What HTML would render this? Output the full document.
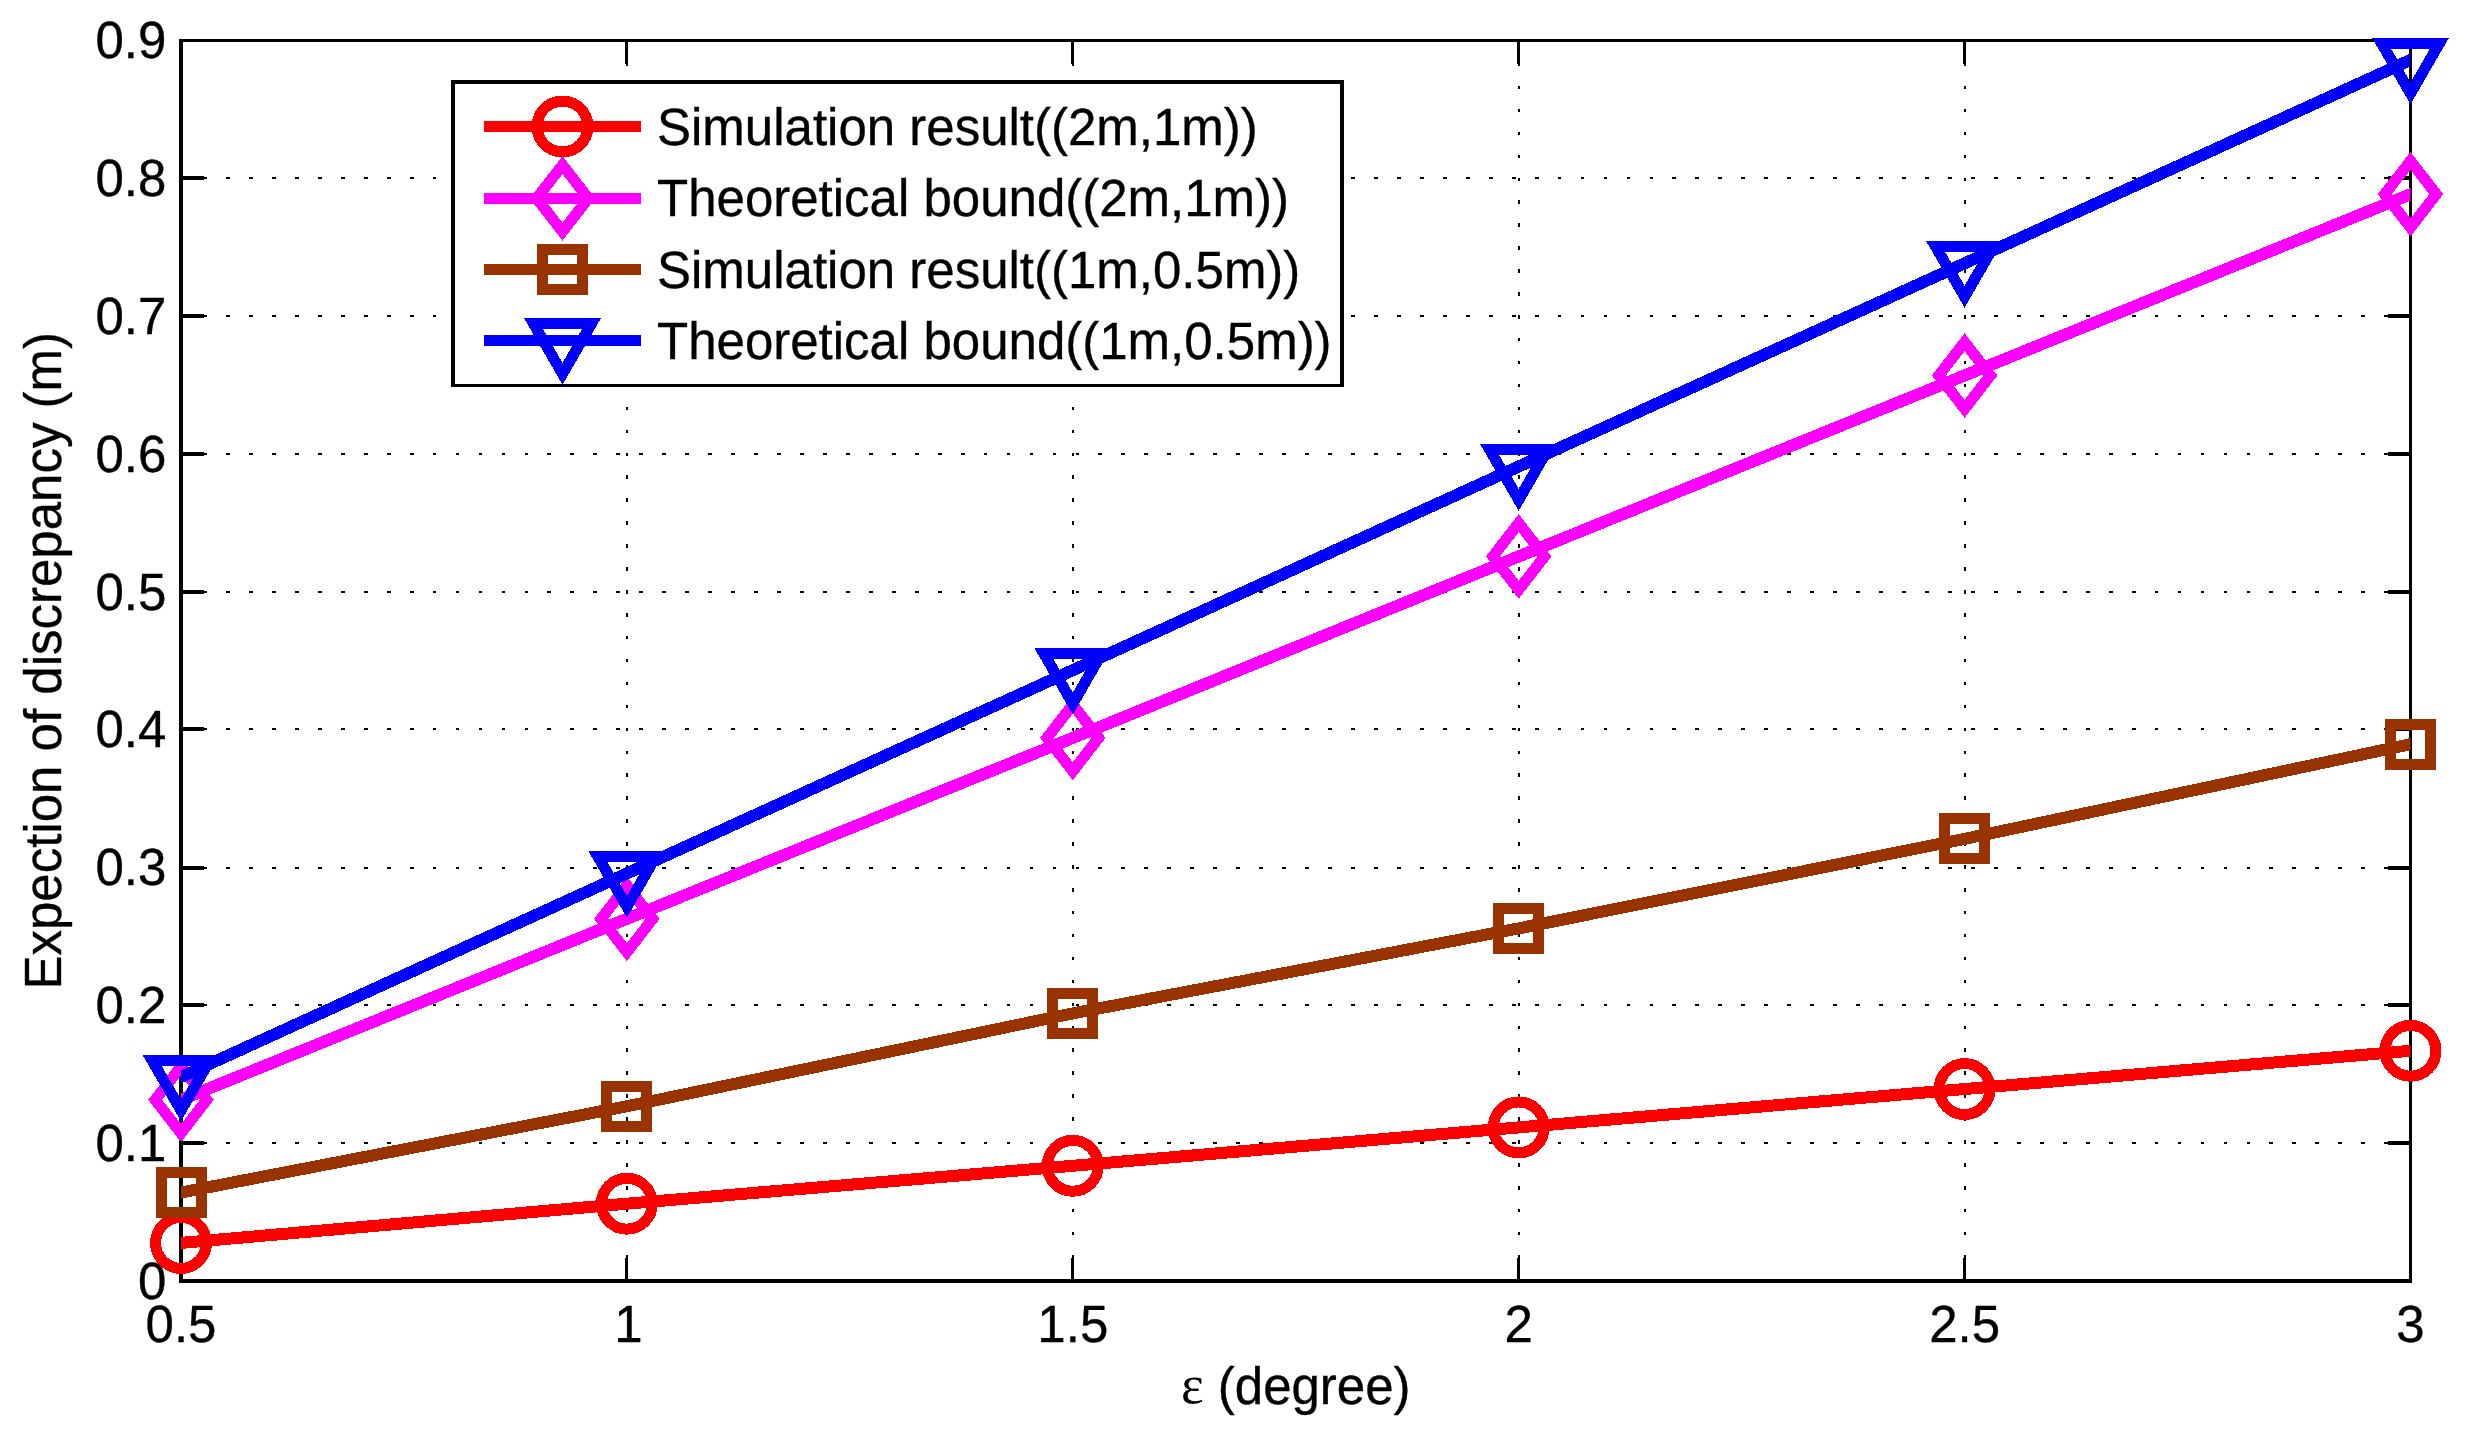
<!DOCTYPE html>
<html lang="en"><head><meta charset="utf-8"><title>Expection of discrepancy vs epsilon</title>
<style>html,body{margin:0;padding:0;background:#fff;}body{width:2473px;height:1440px;overflow:hidden;}svg{display:block;}text{font-family:"Liberation Sans", Arial, Helvetica, sans-serif;font-size:51px;fill:#000;font-kerning:none;stroke:#000;stroke-width:0.35px;}</style></head><body>
<svg width="2473" height="1440" viewBox="0 0 2473 1440">
<rect x="0" y="0" width="2473" height="1440" fill="#ffffff"/>
<g stroke="#000" stroke-width="2" fill="none" shape-rendering="crispEdges">
<g stroke-dasharray="3.8 19.16">
<line x1="180.1" y1="1143" x2="2410.5" y2="1143"/>
<line x1="180.1" y1="1005" x2="2410.5" y2="1005"/>
<line x1="180.1" y1="868" x2="2410.5" y2="868"/>
<line x1="180.1" y1="729" x2="2410.5" y2="729"/>
<line x1="180.1" y1="592" x2="2410.5" y2="592"/>
<line x1="180.1" y1="454" x2="2410.5" y2="454"/>
<line x1="180.1" y1="316" x2="2410.5" y2="316"/>
<line x1="180.1" y1="178" x2="2410.5" y2="178"/>
</g><g stroke-dasharray="3.5 19.42">
<line x1="626.9" y1="40" x2="626.9" y2="1281"/>
<line x1="1072.8" y1="40" x2="1072.8" y2="1281"/>
<line x1="1518.7" y1="40" x2="1518.7" y2="1281"/>
<line x1="1964.6" y1="40" x2="1964.6" y2="1281"/>
</g></g>
<g stroke="#000" fill="none" shape-rendering="crispEdges">
<g fill="#000" stroke="none"><rect x="179" y="39" width="4" height="1244"/><rect x="2409" y="39" width="3" height="1244"/><rect x="179" y="39" width="2233" height="3"/><rect x="179" y="1279" width="2233" height="4"/></g>
<g stroke-width="3">
<line x1="626.9" y1="1281" x2="626.9" y2="1258"/>
<line x1="626.9" y1="40.5" x2="626.9" y2="63.5"/>
<line x1="1072.8" y1="1281" x2="1072.8" y2="1258"/>
<line x1="1072.8" y1="40.5" x2="1072.8" y2="63.5"/>
<line x1="1518.7" y1="1281" x2="1518.7" y2="1258"/>
<line x1="1518.7" y1="40.5" x2="1518.7" y2="63.5"/>
<line x1="1964.6" y1="1281" x2="1964.6" y2="1258"/>
<line x1="1964.6" y1="40.5" x2="1964.6" y2="63.5"/>
<line x1="181" y1="1143" x2="204" y2="1143" stroke-width="3.8"/>
<line x1="2410.5" y1="1143" x2="2387.5" y2="1143" stroke-width="3.8"/>
<line x1="181" y1="1005" x2="204" y2="1005" stroke-width="3.8"/>
<line x1="2410.5" y1="1005" x2="2387.5" y2="1005" stroke-width="3.8"/>
<line x1="181" y1="868" x2="204" y2="868" stroke-width="3.8"/>
<line x1="2410.5" y1="868" x2="2387.5" y2="868" stroke-width="3.8"/>
<line x1="181" y1="729" x2="204" y2="729" stroke-width="3.8"/>
<line x1="2410.5" y1="729" x2="2387.5" y2="729" stroke-width="3.8"/>
<line x1="181" y1="592" x2="204" y2="592" stroke-width="3.8"/>
<line x1="2410.5" y1="592" x2="2387.5" y2="592" stroke-width="3.8"/>
<line x1="181" y1="454" x2="204" y2="454" stroke-width="3.8"/>
<line x1="2410.5" y1="454" x2="2387.5" y2="454" stroke-width="3.8"/>
<line x1="181" y1="316" x2="204" y2="316" stroke-width="3.8"/>
<line x1="2410.5" y1="316" x2="2387.5" y2="316" stroke-width="3.8"/>
<line x1="181" y1="178" x2="204" y2="178" stroke-width="3.8"/>
<line x1="2410.5" y1="178" x2="2387.5" y2="178" stroke-width="3.8"/>
</g></g>
<defs><clipPath id="axclip"><rect x="181" y="0" width="2229.5" height="1440"/></clipPath></defs>
<g shape-rendering="crispEdges">
<polyline points="181,1242.9 626.9,1203.7 1072.8,1165.8 1518.7,1127.4 1964.6,1089.05 2410.5,1050.8" fill="none" stroke="#ff0000" stroke-width="12" stroke-linejoin="round" stroke-linecap="square" clip-path="url(#axclip)"/>
<circle cx="181" cy="1242.9" r="25.45" fill="none" stroke="#ff0000" stroke-width="11" stroke-linejoin="miter" stroke-miterlimit="10"/>
<circle cx="626.9" cy="1203.7" r="25.45" fill="none" stroke="#ff0000" stroke-width="11" stroke-linejoin="miter" stroke-miterlimit="10"/>
<circle cx="1072.8" cy="1165.8" r="25.45" fill="none" stroke="#ff0000" stroke-width="11" stroke-linejoin="miter" stroke-miterlimit="10"/>
<circle cx="1518.7" cy="1127.4" r="25.45" fill="none" stroke="#ff0000" stroke-width="11" stroke-linejoin="miter" stroke-miterlimit="10"/>
<circle cx="1964.6" cy="1089.05" r="25.45" fill="none" stroke="#ff0000" stroke-width="11" stroke-linejoin="miter" stroke-miterlimit="10"/>
<circle cx="2410.5" cy="1050.8" r="25.45" fill="none" stroke="#ff0000" stroke-width="11" stroke-linejoin="miter" stroke-miterlimit="10"/>
<polyline points="181,1099.8 626.9,918.8 1072.8,737.9 1518.7,556.45 1964.6,375.5 2410.5,194.2" fill="none" stroke="#ff00ff" stroke-width="12" stroke-linejoin="round" stroke-linecap="square" clip-path="url(#axclip)"/>
<polygon points="181,1066.5 206.8,1099.8 181,1133.1 155.2,1099.8" fill="none" stroke="#ff00ff" stroke-width="11" stroke-linejoin="miter" stroke-miterlimit="10"/>
<polygon points="626.9,885.5 652.7,918.8 626.9,952.1 601.1,918.8" fill="none" stroke="#ff00ff" stroke-width="11" stroke-linejoin="miter" stroke-miterlimit="10"/>
<polygon points="1072.8,704.6 1098.6,737.9 1072.8,771.2 1047,737.9" fill="none" stroke="#ff00ff" stroke-width="11" stroke-linejoin="miter" stroke-miterlimit="10"/>
<polygon points="1518.7,523.15 1544.5,556.45 1518.7,589.75 1492.9,556.45" fill="none" stroke="#ff00ff" stroke-width="11" stroke-linejoin="miter" stroke-miterlimit="10"/>
<polygon points="1964.6,342.2 1990.4,375.5 1964.6,408.8 1938.8,375.5" fill="none" stroke="#ff00ff" stroke-width="11" stroke-linejoin="miter" stroke-miterlimit="10"/>
<polygon points="2410.5,160.9 2436.3,194.2 2410.5,227.5 2384.7,194.2" fill="none" stroke="#ff00ff" stroke-width="11" stroke-linejoin="miter" stroke-miterlimit="10"/>
<polyline points="181,1192.5 626.9,1106.3 1072.8,1013.4 1518.7,928.4 1964.6,838.9 2410.5,744.2" fill="none" stroke="#993300" stroke-width="12" stroke-linejoin="round" stroke-linecap="square" clip-path="url(#axclip)"/>
<rect x="161" y="1172.5" width="40" height="40" fill="none" stroke="#993300" stroke-width="11" stroke-linejoin="miter" stroke-miterlimit="10"/>
<rect x="606.9" y="1086.3" width="40" height="40" fill="none" stroke="#993300" stroke-width="11" stroke-linejoin="miter" stroke-miterlimit="10"/>
<rect x="1052.8" y="993.4" width="40" height="40" fill="none" stroke="#993300" stroke-width="11" stroke-linejoin="miter" stroke-miterlimit="10"/>
<rect x="1498.7" y="908.4" width="40" height="40" fill="none" stroke="#993300" stroke-width="11" stroke-linejoin="miter" stroke-miterlimit="10"/>
<rect x="1944.6" y="818.9" width="40" height="40" fill="none" stroke="#993300" stroke-width="11" stroke-linejoin="miter" stroke-miterlimit="10"/>
<rect x="2390.5" y="724.2" width="40" height="40" fill="none" stroke="#993300" stroke-width="11" stroke-linejoin="miter" stroke-miterlimit="10"/>
<polyline points="181,1077 626.9,873.4 1072.8,670.2 1518.7,466.5 1964.6,263.35 2410.5,60" fill="none" stroke="#0000ff" stroke-width="12" stroke-linejoin="round" stroke-linecap="square" clip-path="url(#axclip)"/>
<polygon points="152.07,1060.3 209.93,1060.3 181,1110.4" fill="none" stroke="#0000ff" stroke-width="11" stroke-linejoin="miter" stroke-miterlimit="10"/>
<polygon points="597.97,856.7 655.83,856.7 626.9,906.8" fill="none" stroke="#0000ff" stroke-width="11" stroke-linejoin="miter" stroke-miterlimit="10"/>
<polygon points="1043.87,653.5 1101.73,653.5 1072.8,703.6" fill="none" stroke="#0000ff" stroke-width="11" stroke-linejoin="miter" stroke-miterlimit="10"/>
<polygon points="1489.77,449.8 1547.63,449.8 1518.7,499.9" fill="none" stroke="#0000ff" stroke-width="11" stroke-linejoin="miter" stroke-miterlimit="10"/>
<polygon points="1935.67,246.65 1993.53,246.65 1964.6,296.75" fill="none" stroke="#0000ff" stroke-width="11" stroke-linejoin="miter" stroke-miterlimit="10"/>
<polygon points="2381.57,43.3 2439.43,43.3 2410.5,93.4" fill="none" stroke="#0000ff" stroke-width="11" stroke-linejoin="miter" stroke-miterlimit="10"/>
</g>
<g shape-rendering="crispEdges" stroke="none"><rect x="451" y="80" width="893" height="307" fill="#000"/><rect x="455" y="84" width="885" height="300" fill="#fff"/></g>
<g shape-rendering="crispEdges">
<line x1="483.9" y1="126.5" x2="641.1" y2="126.5" stroke="#ff0000" stroke-width="11"/>
<circle cx="562.5" cy="126.5" r="25.45" fill="none" stroke="#ff0000" stroke-width="11" stroke-linejoin="miter" stroke-miterlimit="10"/>
<line x1="483.9" y1="198.35" x2="641.1" y2="198.35" stroke="#ff00ff" stroke-width="11"/>
<polygon points="562.5,165.05 588.3,198.35 562.5,231.65 536.7,198.35" fill="none" stroke="#ff00ff" stroke-width="11" stroke-linejoin="miter" stroke-miterlimit="10"/>
<line x1="483.9" y1="269.5" x2="641.1" y2="269.5" stroke="#993300" stroke-width="11"/>
<rect x="542.5" y="249.5" width="40" height="40" fill="none" stroke="#993300" stroke-width="11" stroke-linejoin="miter" stroke-miterlimit="10"/>
<line x1="483.9" y1="340.4" x2="641.1" y2="340.4" stroke="#0000ff" stroke-width="11"/>
<polygon points="533.57,323.7 591.43,323.7 562.5,373.8" fill="none" stroke="#0000ff" stroke-width="11" stroke-linejoin="miter" stroke-miterlimit="10"/>
</g>
<text x="657" y="144.9" text-anchor="start">Simulation result((2m,1m))</text>
<text x="657" y="215.9" text-anchor="start">Theoretical bound((2m,1m))</text>
<text x="657" y="287.9" text-anchor="start">Simulation result((1m,0.5m))</text>
<text x="657" y="359.1" text-anchor="start">Theoretical bound((1m,0.5m))</text>
<text transform="translate(181,1342.4) scale(1,1.02)" text-anchor="middle">0.5</text>
<text transform="translate(628.5,1342.4) scale(1,1.02)" text-anchor="middle">1</text>
<text transform="translate(1072.8,1342.4) scale(1,1.02)" text-anchor="middle">1.5</text>
<text transform="translate(1518.7,1342.4) scale(1,1.02)" text-anchor="middle">2</text>
<text transform="translate(1964.6,1342.4) scale(1,1.02)" text-anchor="middle">2.5</text>
<text transform="translate(2410.5,1342.4) scale(1,1.02)" text-anchor="middle">3</text>
<text transform="translate(166.3,1298.8) scale(1,1.02)" text-anchor="end">0</text>
<text transform="translate(166.3,1160.97) scale(1,1.02)" text-anchor="end">0.1</text>
<text transform="translate(166.3,1023.13) scale(1,1.02)" text-anchor="end">0.2</text>
<text transform="translate(166.3,885.3) scale(1,1.02)" text-anchor="end">0.3</text>
<text transform="translate(166.3,747.47) scale(1,1.02)" text-anchor="end">0.4</text>
<text transform="translate(166.3,609.63) scale(1,1.02)" text-anchor="end">0.5</text>
<text transform="translate(166.3,471.8) scale(1,1.02)" text-anchor="end">0.6</text>
<text transform="translate(166.3,333.97) scale(1,1.02)" text-anchor="end">0.7</text>
<text transform="translate(166.3,196.13) scale(1,1.02)" text-anchor="end">0.8</text>
<text transform="translate(166.3,58.3) scale(1,1.02)" text-anchor="end">0.9</text>
<text x="1295.75" y="1403.7" text-anchor="middle"><tspan font-family="&quot;Liberation Serif&quot;, &quot;DejaVu Serif&quot;, serif" font-size="54" stroke="none" dy="-1">&#949;</tspan><tspan dy="1"> (degree)</tspan></text>
<text transform="translate(60.8,660.75) rotate(-90)" text-anchor="middle">Expection of discrepancy (m)</text>
</svg></body></html>
